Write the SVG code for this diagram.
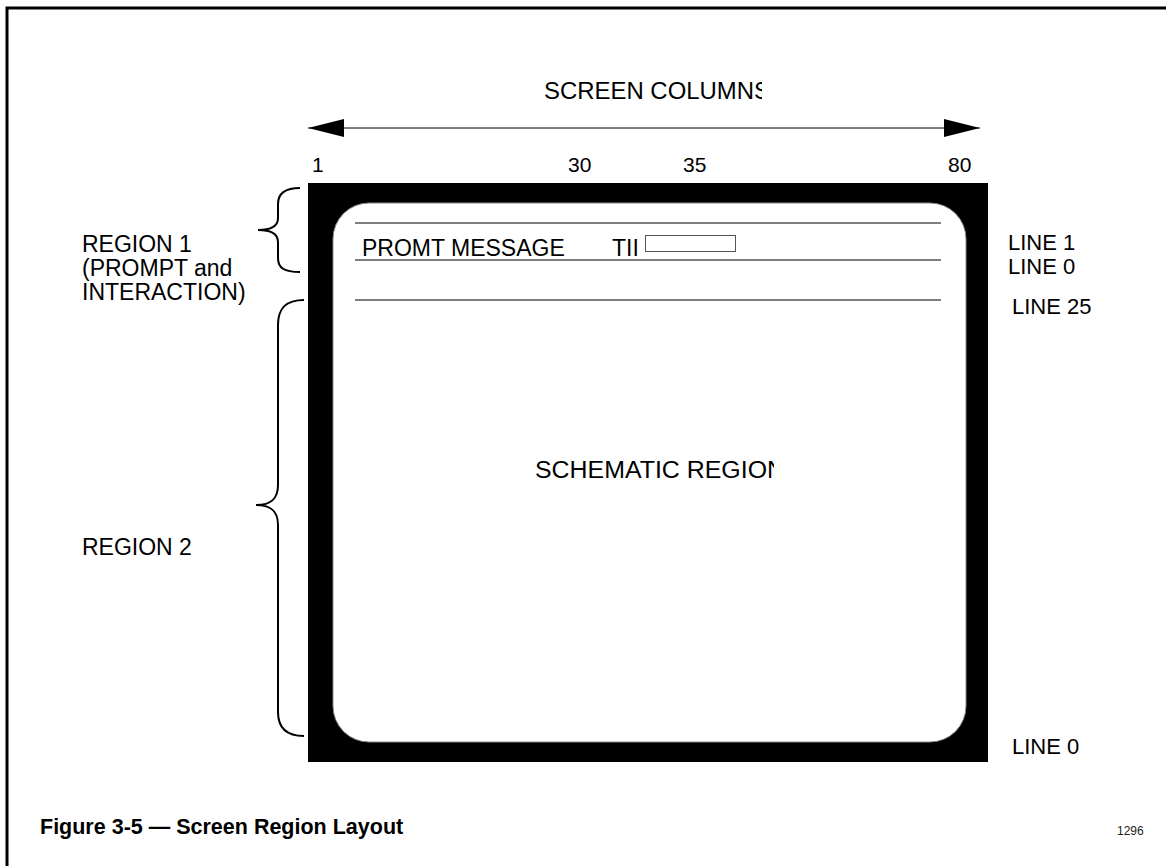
<svg xmlns="http://www.w3.org/2000/svg" width="1166" height="866" viewBox="0 0 1166 866">
<style>
text{font-family:"Liberation Sans",Arial,sans-serif;font-size:23px;fill:#000}
.num{font-size:21px}
.rl{font-size:22px}
.cap{font-weight:bold;font-size:21.5px}
.small{font-size:12px;fill:#222}
.ln{stroke:#000;stroke-width:1;fill:none}
.brace{stroke:#000;stroke-width:2;fill:none}
</style>
<defs>
<marker id="ah" viewBox="0 0 36 18" refX="36" refY="9" markerWidth="36" markerHeight="18" markerUnits="userSpaceOnUse" orient="auto-start-reverse">
<path d="M0,0 L36,9 L0,18 Z" fill="#000"/>
</marker>
<clipPath id="c1"><rect x="500" y="60" width="262" height="60"/></clipPath>
<clipPath id="c2"><rect x="500" y="440" width="274" height="60"/></clipPath>
</defs>
<rect x="0" y="0" width="1166" height="866" fill="#fff"/>
<path d="M7,866 V8 H1166" stroke="#000" stroke-width="3" fill="none"/>
<g id="connectors">
<line x1="308" y1="128" x2="980" y2="128" class="ln" marker-start="url(#ah)" marker-end="url(#ah)"/>
</g>
<g id="screen">
<rect x="308" y="183" width="680" height="579" fill="#000"/>
<rect x="333" y="203" width="633" height="539" rx="36" ry="36" fill="#fff" stroke="#888" stroke-width="1"/>
<line x1="355" y1="223" x2="941" y2="223" class="ln"/>
<line x1="355" y1="260" x2="941" y2="260" class="ln"/>
<line x1="355" y1="300" x2="941" y2="300" class="ln"/>
<text x="362" y="256">PROMT MESSAGE</text>
<text x="612" y="256">TII</text>
<rect x="645.5" y="235.5" width="90" height="16" fill="#fff" stroke="#555" stroke-width="1"/>
<text x="535" y="478" textLength="250" lengthAdjust="spacingAndGlyphs" clip-path="url(#c2)">SCHEMATIC REGION</text>
</g>
<g id="columns">
<text x="544" y="99" textLength="226" lengthAdjust="spacingAndGlyphs" clip-path="url(#c1)">SCREEN COLUMNS</text>
<text class="num" x="312" y="172">1</text>
<text class="num" x="568" y="172">30</text>
<text class="num" x="683" y="172">35</text>
<text class="num" x="948" y="172">80</text>
</g>
<g id="region1">
<path class="brace" d="M300,188 C284,188 278,194 278,204 V218 C278,226 272,230 258,230 C272,230 278,234 278,242 V258 C278,268 284,272 300,272"/>
<text x="82" y="252">REGION 1</text>
<text x="82" y="276">(PROMPT and</text>
<text x="82" y="300">INTERACTION)</text>
</g>
<g id="region2">
<path class="brace" d="M304,300 C286,300 278,308 278,325 V485 C278,498 272,505 256,505 C272,505 278,512 278,525 V712 C278,728 286,736 304,736"/>
<text x="82" y="555">REGION 2</text>
</g>
<g id="lines">
<text class="rl" x="1008" y="250">LINE 1</text>
<text class="rl" x="1008" y="274">LINE 0</text>
<text class="rl" x="1012" y="314">LINE 25</text>
<text class="rl" x="1012" y="754">LINE 0</text>
</g>
<g id="caption">
<text class="cap" x="40" y="834">Figure 3-5 — Screen Region Layout</text>
<text class="small" x="1117" y="835">1296</text>
</g>
</svg>
